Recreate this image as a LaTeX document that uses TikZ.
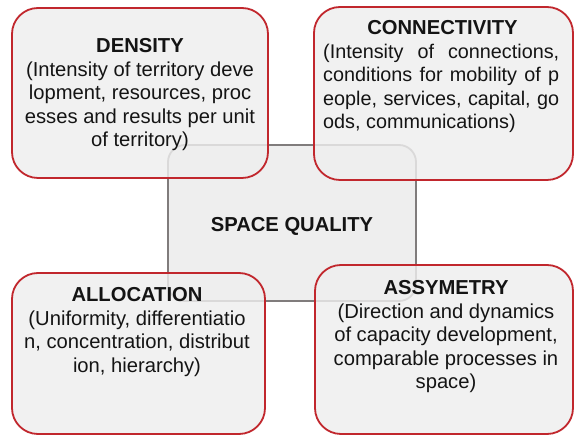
\documentclass[tikz,border=0pt]{standalone}
\usepackage{fontspec}
\setmainfont{Liberation Sans}
\definecolor{boxred}{RGB}{193,39,45}
\definecolor{boxfill}{RGB}{238,238,238}
\definecolor{midline}{RGB}{128,124,124}
\definecolor{inkc}{RGB}{20,20,20}
\newcommand{\jline}[1]{\makebox[236pt][s]{#1}}
\begin{document}
\begin{tikzpicture}[x=1pt,y=-1pt,
  cornerbox/.style={draw=boxred, line width=1.8pt, fill=boxfill, fill opacity=0.82,
    rounded corners=26pt, inner sep=0pt},
  midbox/.style={draw=midline, line width=1.8pt, fill=boxfill, rounded corners=17pt, inner sep=0pt},
  boxtext/.style={inner sep=0pt, text=inkc, align=center, anchor=base,
    font=\fontsize{20.2}{23.5}\selectfont},
  ctext/.style={inner sep=0pt, text=inkc, align=left, anchor=base west,
    font=\fontsize{19.8}{23.5}\selectfont}]
\useasboundingbox (0,0) rectangle (574,435);
\fill[white] (0,0) rectangle (574,435);
% centre box
\node[midbox, minimum width=248pt, minimum height=156pt] (centre) at (292,223) {};
\node[boxtext] (centretext) at (292,232) {\textbf{SPACE QUALITY}};
% corner boxes
\node[cornerbox, minimum width=256pt, minimum height=170pt] (density) at (140,93) {};
\node[cornerbox, minimum width=259pt, minimum height=173pt] (connect) at (443.5,93.5) {};
\node[cornerbox, minimum width=253pt, minimum height=161pt] (alloc) at (138.5,353.5) {};
\node[cornerbox, minimum width=258pt, minimum height=169pt] (asym) at (444,349.5) {};
% texts (anchor = baseline of the last line)
\node[boxtext] (densitytext) at (140,147) {\textbf{DENSITY}\\(Intensity of territory deve\\lopment, resources, proc\\esses and results per unit\\of territory)};
\node[boxtext] (connecttitle) at (442.5,35) {\textbf{CONNECTIVITY}};
\node[ctext] (connecttext) at (323,129) {\jline{(Intensity of connections,}\\\jline{conditions for mobility of p}\\\jline{eople, services, capital, go}\\ods, communications)};
\node[boxtext] (alloctext) at (137,372.5) {\textbf{ALLOCATION}\\(Uniformity, differentiatio\\n, concentration, distribut\\ion, hierarchy)};
\node[boxtext] (asymtext) at (446,389) {\textbf{ASSYMETRY}\\(Direction and dynamics\\of capacity development,\\comparable processes in\\space)};
\end{tikzpicture}
\end{document}
